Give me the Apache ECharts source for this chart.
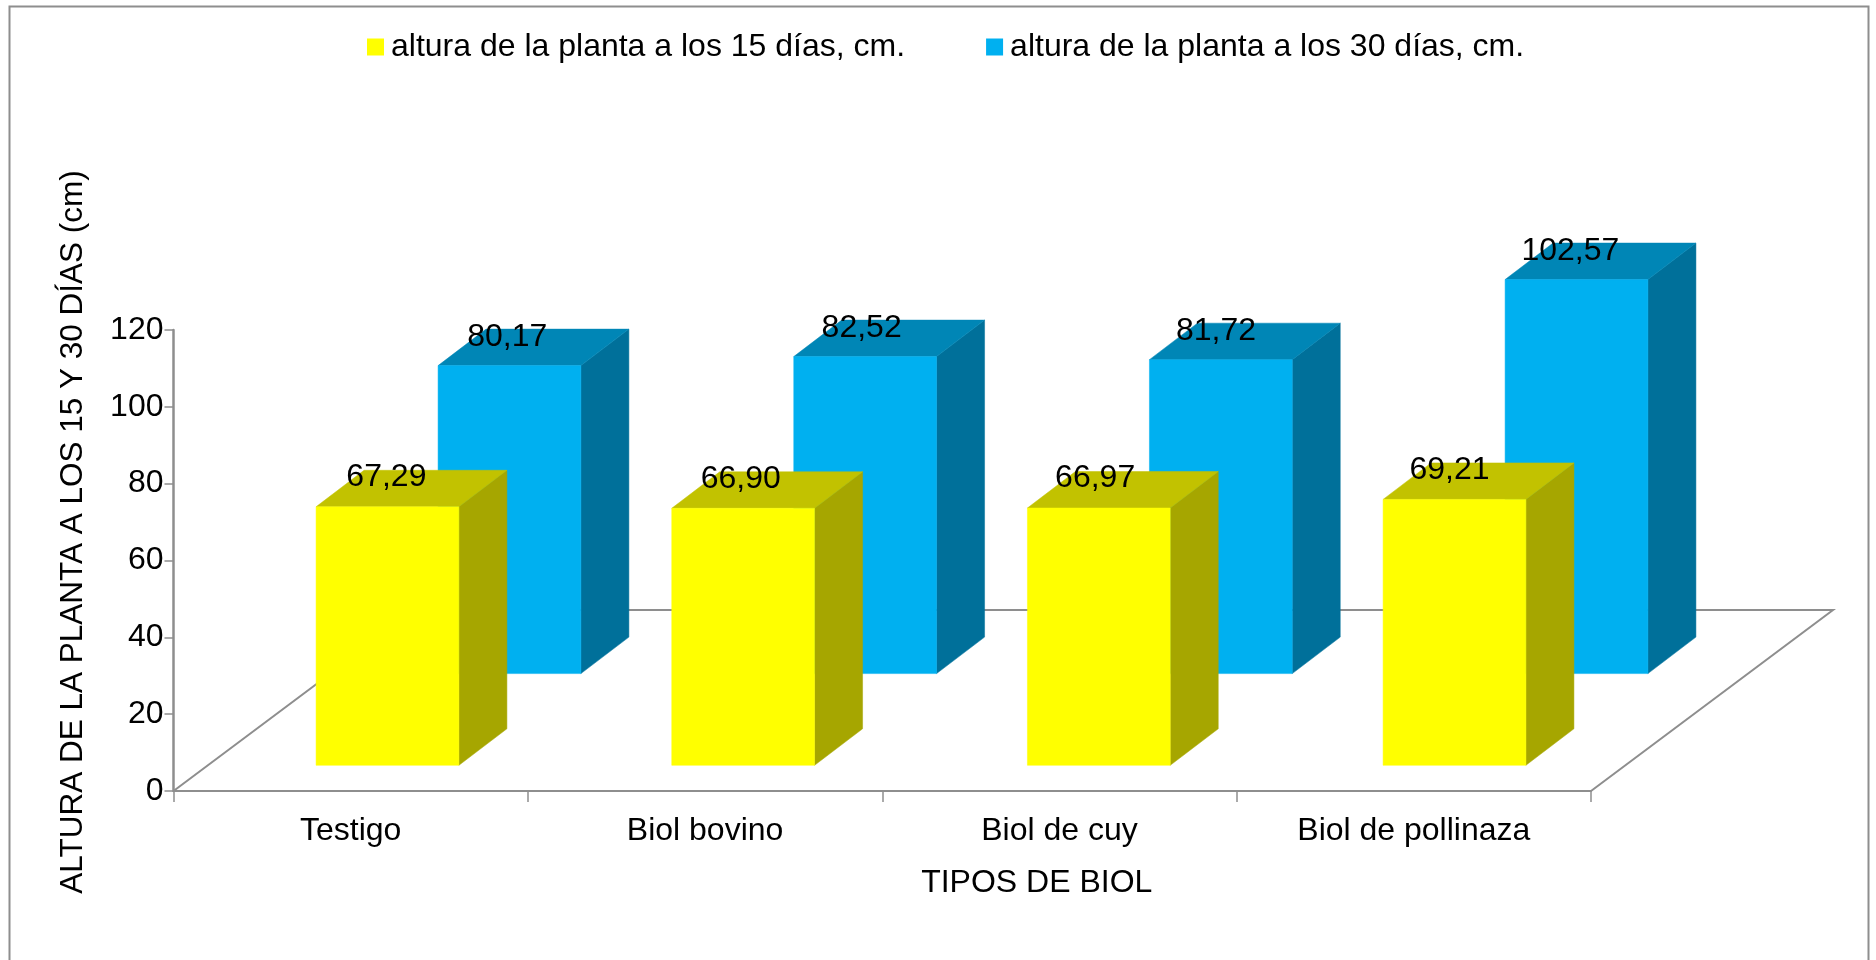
<!DOCTYPE html>
<html>
<head>
<meta charset="utf-8">
<style>html,body{margin:0;padding:0;background:#fff}#chart{width:1876px;height:960px}</style>
<script src="https://cdn.jsdelivr.net/npm/echarts@6/dist/echarts.min.js"></script>
</head>
<body>
<div id="chart"></div>
<script>
const categories = ['Testigo', 'Biol bovino', 'Biol de cuy', 'Biol de pollinaza'];
const altura15 = [67.29, 66.90, 66.97, 69.21];
const altura30 = [80.17, 82.52, 81.72, 102.57];
const yTicks = [0, 20, 40, 60, 80, 100, 120];

const FONT = '"Liberation Sans", Arial, sans-serif';
const AXIS_GREY = '#8e8e8e';
// Oblique projection: how far a box recedes, and where each row stands on the floor.
const BOX_DEPTH = [48, 36.5];
const FLOOR_DEPTH = [242, 181];
const BAR_FRACTION = 0.403;
const BAR_SPREAD = 1.3;

function pairs(values) {
  return values.map((v, i) => [categories[i], v]);
}

function boxRenderer(row, colors) {
  return function (params, api) {
    const i = api.value(0);
    const value = api.value(1);
    const top = api.coord([i, value]);
    const base = api.coord([i, 0]);
    const w = api.size([1, 0])[0] * BAR_FRACTION;
    const x0 = top[0] + row.dx + i * BAR_SPREAD - w / 2;
    const x1 = x0 + w;
    const yTop = top[1] - row.dy;
    const yBase = base[1] - row.dy;
    const [ox, oy] = BOX_DEPTH;
    const face = (pts, fill) => ({
      type: 'polygon', shape: { points: pts }, style: { fill: fill, stroke: fill, lineWidth: 0.5 }
    });
    return {
      type: 'group',
      children: [
        face([[x1, yTop], [x1 + ox, yTop - oy], [x1 + ox, yBase - oy], [x1, yBase]], colors.side),
        face([[x0, yTop], [x0 + ox, yTop - oy], [x1 + ox, yTop - oy], [x1, yTop]], colors.top),
        face([[x0, yTop], [x1, yTop], [x1, yBase], [x0, yBase]], colors.front),
        {
          type: 'text',
          z2: 10,
          style: {
            x: top[0] + row.labelDx, y: yTop - row.labelDy,
            text: value.toFixed(2).replace('.', ','),
            fill: '#000', font: '32px ' + FONT,
            align: 'center', verticalAlign: 'middle'
          }
        }
      ]
    };
  };
}

function floorRenderer(params, api) {
  const band = api.size([1, 0])[0];
  const first = api.coord([0, 0]);
  const last = api.coord([categories.length - 1, 0]);
  const a = [first[0] - band / 2, first[1]];
  const b = [last[0] + band / 2, last[1]];
  const [fx, fy] = FLOOR_DEPTH;
  return {
    type: 'polyline',
    shape: { points: [a, [a[0] + fx, a[1] - fy], [b[0] + fx, b[1] - fy], b] },
    style: { fill: null, stroke: AXIS_GREY, lineWidth: 2 }
  };
}

const chart = echarts.init(document.getElementById('chart'), null, { renderer: 'canvas' });
chart.setOption({
  animation: false,
  backgroundColor: '#fff',
  graphic: [{
    type: 'rect', silent: true, z: -1,
    shape: { x: 9.5, y: 6.5, width: 1859, height: 980 },
    style: { fill: '#fff', stroke: AXIS_GREY, lineWidth: 2 }
  }],
  legend: {
    top: 26, left: 362,
    itemWidth: 17, itemHeight: 17, itemGap: 81,
    icon: 'rect',
    textStyle: { fontFamily: FONT, fontSize: 32, color: '#000', padding: [0, 0, 0, 2] },
    data: ['altura de la planta a los 15 días, cm.', 'altura de la planta a los 30 días, cm.']
  },
  grid: { left: 173.5, top: 330, width: 1417.5, height: 461, containLabel: false },
  xAxis: {
    type: 'category',
    data: categories,
    name: 'TIPOS DE BIOL',
    nameLocation: 'middle',
    nameGap: 76,
    nameTextStyle: { fontFamily: FONT, fontSize: 32, color: '#000', padding: [0, 0, 0, 309] },
    axisLine: { lineStyle: { color: AXIS_GREY, width: 2 } },
    axisTick: { show: true, alignWithLabel: false, length: 11, lineStyle: { color: AXIS_GREY, width: 1.5 } },
    axisLabel: { fontFamily: FONT, fontSize: 32, color: '#000', margin: 24 }
  },
  yAxis: {
    type: 'value',
    min: yTicks[0],
    max: yTicks[yTicks.length - 1],
    interval: yTicks[1] - yTicks[0],
    name: 'ALTURA DE LA PLANTA A LOS 15 Y 30 DÍAS (cm)',
    nameLocation: 'middle',
    nameGap: 84,
    nameTextStyle: { fontFamily: FONT, fontSize: 31.5, color: '#000', padding: [0, 0, 0, 57] },
    axisLine: { show: true, lineStyle: { color: AXIS_GREY, width: 2.5 } },
    axisTick: { show: true, length: 9, lineStyle: { color: AXIS_GREY, width: 1.5 } },
    axisLabel: { fontFamily: FONT, fontSize: 32, color: '#000', margin: 10, padding: [4, 0, 0, 0] },
    splitLine: { show: false }
  },
  series: [
    {
      type: 'custom', silent: true, z: 1, clip: false,
      renderItem: floorRenderer,
      encode: { x: 0, y: 1 },
      data: [[categories[0], 0]]
    },
    {
      name: 'altura de la planta a los 30 días, cm.',
      type: 'custom', z: 2, clip: false,
      itemStyle: { color: '#00B0F0' },
      renderItem: boxRenderer({ dx: 158.8, dy: 117.4, labelDx: 156.6, labelDy: 28 }, { front: '#00B0F0', top: '#0086B6', side: '#00709A' }),
      encode: { x: 0, y: 1 },
      data: pairs(altura30)
    },
    {
      name: 'altura de la planta a los 15 días, cm.',
      type: 'custom', z: 3, clip: false,
      itemStyle: { color: '#FFFF00' },
      renderItem: boxRenderer({ dx: 36.8, dy: 25.7, labelDx: 35.7, labelDy: 29.5 }, { front: '#FFFF00', top: '#C2C200', side: '#A6A600' }),
      encode: { x: 0, y: 1 },
      data: pairs(altura15)
    }
  ]
});
</script>
</body>
</html>
